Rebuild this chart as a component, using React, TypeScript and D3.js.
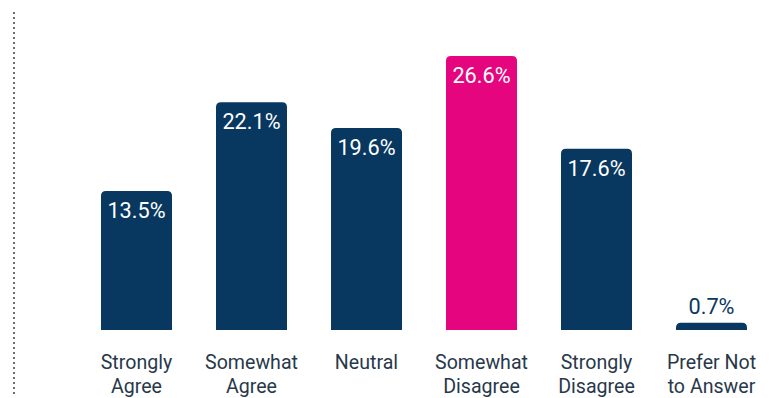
import React from "react";
import * as d3 from "d3";

const categories = [
  ["Strongly", "Agree"],
  ["Somewhat", "Agree"],
  ["Neutral"],
  ["Somewhat", "Disagree"],
  ["Strongly", "Disagree"],
  ["Prefer Not", "to Answer"],
];
const values = [13.5, 22.1, 19.6, 26.6, 17.6, 0.7];
const highlight = [false, false, false, true, false, false];

const W = 771;
const H = 398;
const NAVY = "#08375f";
const PINK = "#e5067f";
const FONT = "Roboto, 'Noto Sans', sans-serif";

function topRoundedRect(x: number, y: number, w: number, h: number, r: number) {
  const rr = Math.min(r, h, w / 2);
  return `M${x},${y + h}V${y + rr}Q${x},${y} ${x + rr},${y}H${x + w - rr}Q${x + w},${y} ${x + w},${y + rr}V${y + h}Z`;
}

export default function App() {
  const keys = categories.map((_, i) => String(i));
  const x = d3.scaleBand<string>().domain(keys).range([79, 769]).paddingInner(0.3826).paddingOuter(0.1913);
  const y = d3.scaleLinear().domain([0, 26.6]).range([330, 56]);
  const bw = x.bandwidth();
  return (
    <svg width={W} height={H} style={{ position: "absolute", left: 0, top: 0, background: "#fff" }}>
      <line x1={14} x2={14} y1={12} y2={397} stroke="#6f6f6f" strokeWidth={2} strokeDasharray="2 3" />
      {values.map((v, i) => {
        const bx = x(String(i))!;
        const top = y(v);
        const h = y(0) - top;
        const inside = h > 40;
        return (
          <g key={i}>
            <path d={topRoundedRect(bx, top, bw, h, 5)} fill={highlight[i] ? PINK : NAVY} />
            <text
              x={bx + bw / 2}
              y={inside ? top + 27 : top - 9}
              textAnchor="middle"
              fontFamily={FONT}
              fontSize={21.7}
              fill={inside ? "#fff" : NAVY}
            >
              {v.toFixed(1)}%
            </text>
            {categories[i].map((line, j) => (
              <text
                key={j}
                x={bx + bw / 2}
                y={369 + j * 23.5}
                textAnchor="middle"
                fontFamily={FONT}
                fontSize={19.6}
                fill="#28384b"
              >
                {line}
              </text>
            ))}
          </g>
        );
      })}
    </svg>
  );
}
